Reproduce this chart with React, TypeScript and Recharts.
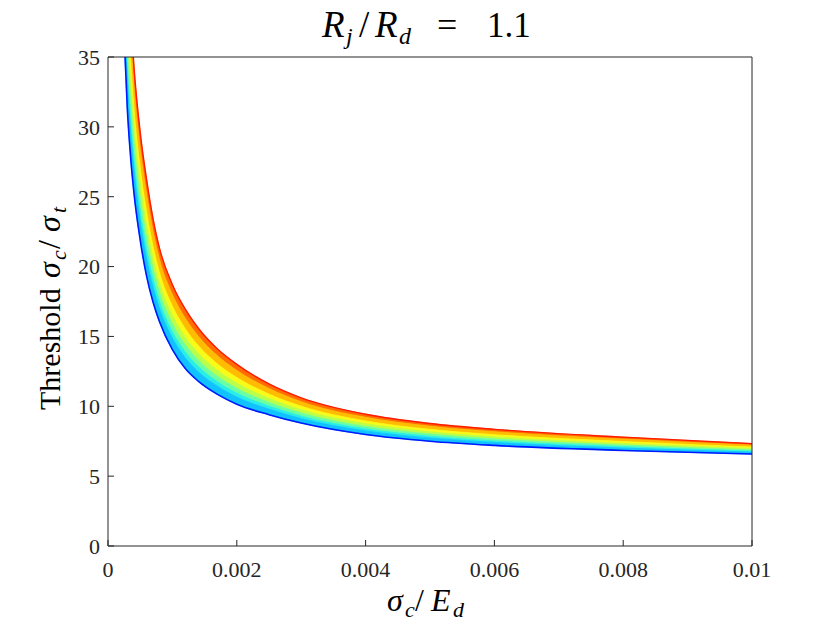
import React from 'react';
import { ComposedChart, Area, Line, XAxis, YAxis } from 'recharts';

// sigma_c / E_d sample positions
const xValues = [0.00025, 0.0003, 0.00035, 0.0004, 0.0005, 0.0006, 0.0007, 0.0008, 0.001, 0.0012, 0.0014, 0.0017, 0.002, 0.0025, 0.003, 0.004, 0.005, 0.006, 0.008, 0.01];
// threshold curves, top (red) to bottom (blue)
const redCurve = [48.5, 42.3, 38.2, 34.5, 29.6, 26.2, 23.4, 21.3, 18.7, 16.95, 15.6, 14.1, 13.0, 11.6, 10.6, 9.43, 8.77, 8.35, 7.79, 7.33];
const orangeCurve = [46.72, 40.65, 36.66, 33.14, 28.45, 25.17, 22.51, 20.51, 18.0, 16.31, 15.03, 13.61, 12.57, 11.27, 10.33, 9.21, 8.58, 8.18, 7.65, 7.22];
const yellowCurve = [44.57, 38.67, 34.8, 31.5, 27.06, 23.92, 21.44, 19.57, 17.17, 15.55, 14.35, 13.03, 12.06, 10.87, 10.01, 8.95, 8.35, 7.97, 7.48, 7.08];
const limeCurve = [42.91, 37.13, 33.36, 30.22, 25.98, 22.96, 20.6, 18.83, 16.51, 14.95, 13.81, 12.57, 11.66, 10.57, 9.75, 8.75, 8.17, 7.81, 7.34, 6.98];
const greenCurve = [41.36, 35.7, 32.02, 29.04, 24.98, 22.06, 19.83, 18.15, 15.91, 14.4, 13.32, 12.15, 11.29, 10.28, 9.52, 8.56, 8.01, 7.66, 7.22, 6.88];
const aquaCurve = [39.93, 34.38, 30.78, 27.95, 24.06, 21.23, 19.12, 17.52, 15.35, 13.89, 12.86, 11.76, 10.95, 10.02, 9.3, 8.39, 7.86, 7.52, 7.11, 6.79];
const cyanCurve = [38.74, 33.28, 29.75, 27.04, 23.29, 20.54, 18.52, 17.0, 14.89, 13.47, 12.48, 11.44, 10.66, 9.8, 9.12, 8.24, 7.73, 7.41, 7.01, 6.72];
const blueCurve = [36.6, 31.3, 27.9, 25.4, 21.9, 19.3, 17.45, 16.05, 14.05, 12.7, 11.8, 10.85, 10.15, 9.4, 8.8, 7.98, 7.5, 7.2, 6.84, 6.58];

const xTicks = [0, 0.002, 0.004, 0.006, 0.008, 0.01];
const yTicks = [0, 5, 10, 15, 20, 25, 30, 35];

const bandCurves = [redCurve, orangeCurve, yellowCurve, limeCurve, greenCurve, aquaCurve, cyanCurve, blueCurve];
const bandColors = ['#ff6c00', '#ffbc00', '#f8fa18', '#bcff48', '#6cffa2', '#2aeee6', '#10c2ff'];

const data = xValues.map((x, i) => {
  const row: any = { x, red: redCurve[i], blue: blueCurve[i] };
  for (let b = 0; b < bandColors.length; b++) {
    row['b' + b] = [bandCurves[b + 1][i], bandCurves[b][i]];
  }
  return row;
});

const AX = '#262626';
const FONT = 'Liberation Serif, Times New Roman, serif';
const W = 814;
const H = 615;
const OY = 8; // overlay svg starts 8px above the chart

export default function App() {
  const tickStyle = { fill: AX, fontSize: 22, fontFamily: FONT };
  const t = { fontFamily: FONT, fill: '#000' };
  return (
    <div style={{ position: 'relative', width: W, height: H }}>
      <ComposedChart width={W} height={H} data={data} margin={{ top: 48, right: 69, bottom: 47, left: 60 }}>
        <XAxis dataKey="x" type="number" domain={[0, 0.01]} ticks={xTicks} allowDataOverflow
          height={30} tickSize={-6} tickMargin={21} tickLine={{ stroke: AX }}
          axisLine={{ stroke: AX, strokeWidth: 1 }} tick={tickStyle} interval={0} />
        <YAxis type="number" domain={[0, 35]} ticks={yTicks} allowDataOverflow
          width={40} tickSize={-6} tickMargin={14} tickLine={{ stroke: AX }}
          axisLine={{ stroke: AX, strokeWidth: 1 }} tick={tickStyle} interval={0} />
        <XAxis xAxisId="top" dataKey="x" type="number" domain={[0, 0.01]} ticks={xTicks} allowDataOverflow
          orientation="top" height={1} tick={false} axisLine={{ stroke: AX }}
          tickSize={-6} tickLine={{ stroke: AX }} interval={0} />
        <YAxis yAxisId="right" type="number" domain={[0, 35]} ticks={yTicks} allowDataOverflow
          orientation="right" width={1} tick={false} axisLine={{ stroke: AX }}
          tickSize={-6} tickLine={{ stroke: AX }} interval={0} />
        {bandColors.map((c, b) => (
          <Area key={'b' + b} dataKey={'b' + b} type="monotone" fill={c} fillOpacity={1}
            stroke={c} strokeWidth={0.8} isAnimationActive={false} dot={false} activeDot={false} />
        ))}
        <Line dataKey="red" type="monotone" stroke="#ff1a00" strokeWidth={1.4} dot={false} activeDot={false} isAnimationActive={false} />
        <Line dataKey="blue" type="monotone" stroke="#0018ff" strokeWidth={1.6} dot={false} activeDot={false} isAnimationActive={false} />
        <Line xAxisId="top" yAxisId="right" dataKey="blue" type="monotone" stroke="none" strokeOpacity={0}
          dot={false} activeDot={false} isAnimationActive={false} />
      </ComposedChart>
      <svg width={W} height={H + OY} style={{ position: 'absolute', left: 0, top: -OY, pointerEvents: 'none' }}>
        <g transform={`translate(0 ${OY})`}>
          {/* title */}
          <text {...t} x={314} y={29} fontSize={37} fontStyle="italic">R</text>
          <text {...t} x={338} y={36} fontSize={24} fontStyle="italic">j</text>
          <text {...t} x={351} y={29} fontSize={37}>/</text>
          <text {...t} x={367} y={29} fontSize={37} fontStyle="italic">R</text>
          <text {...t} x={391} y={36} fontSize={24} fontStyle="italic">d</text>
          <text {...t} x={429} y={29} fontSize={36}>=</text>
          <text {...t} x={479} y={29} fontSize={35}>1.1</text>
          {/* x label */}
          <text {...t} x={379} y={603} fontSize={32} fontStyle="italic">σ</text>
          <text {...t} x={397} y={609} fontSize={22} fontStyle="italic">c</text>
          <text {...t} x={407} y={603} fontSize={32}>/</text>
          <text {...t} x={423} y={603} fontSize={32} fontStyle="italic">E</text>
          <text {...t} x={445} y={609} fontSize={22} fontStyle="italic">d</text>
          {/* y label */}
          <g transform="translate(52 402) rotate(-90)">
            <text {...t} x={0} y={0} fontSize={30}>Threshold</text>
            <text {...t} x={132} y={0} fontSize={32} fontStyle="italic">σ</text>
            <text {...t} x={150} y={6} fontSize={22} fontStyle="italic">c</text>
            <text {...t} x={161} y={0} fontSize={32}>/</text>
            <text {...t} x={178} y={0} fontSize={32} fontStyle="italic">σ</text>
            <text {...t} x={197} y={6} fontSize={22} fontStyle="italic">t</text>
          </g>
        </g>
      </svg>
    </div>
  );
}
